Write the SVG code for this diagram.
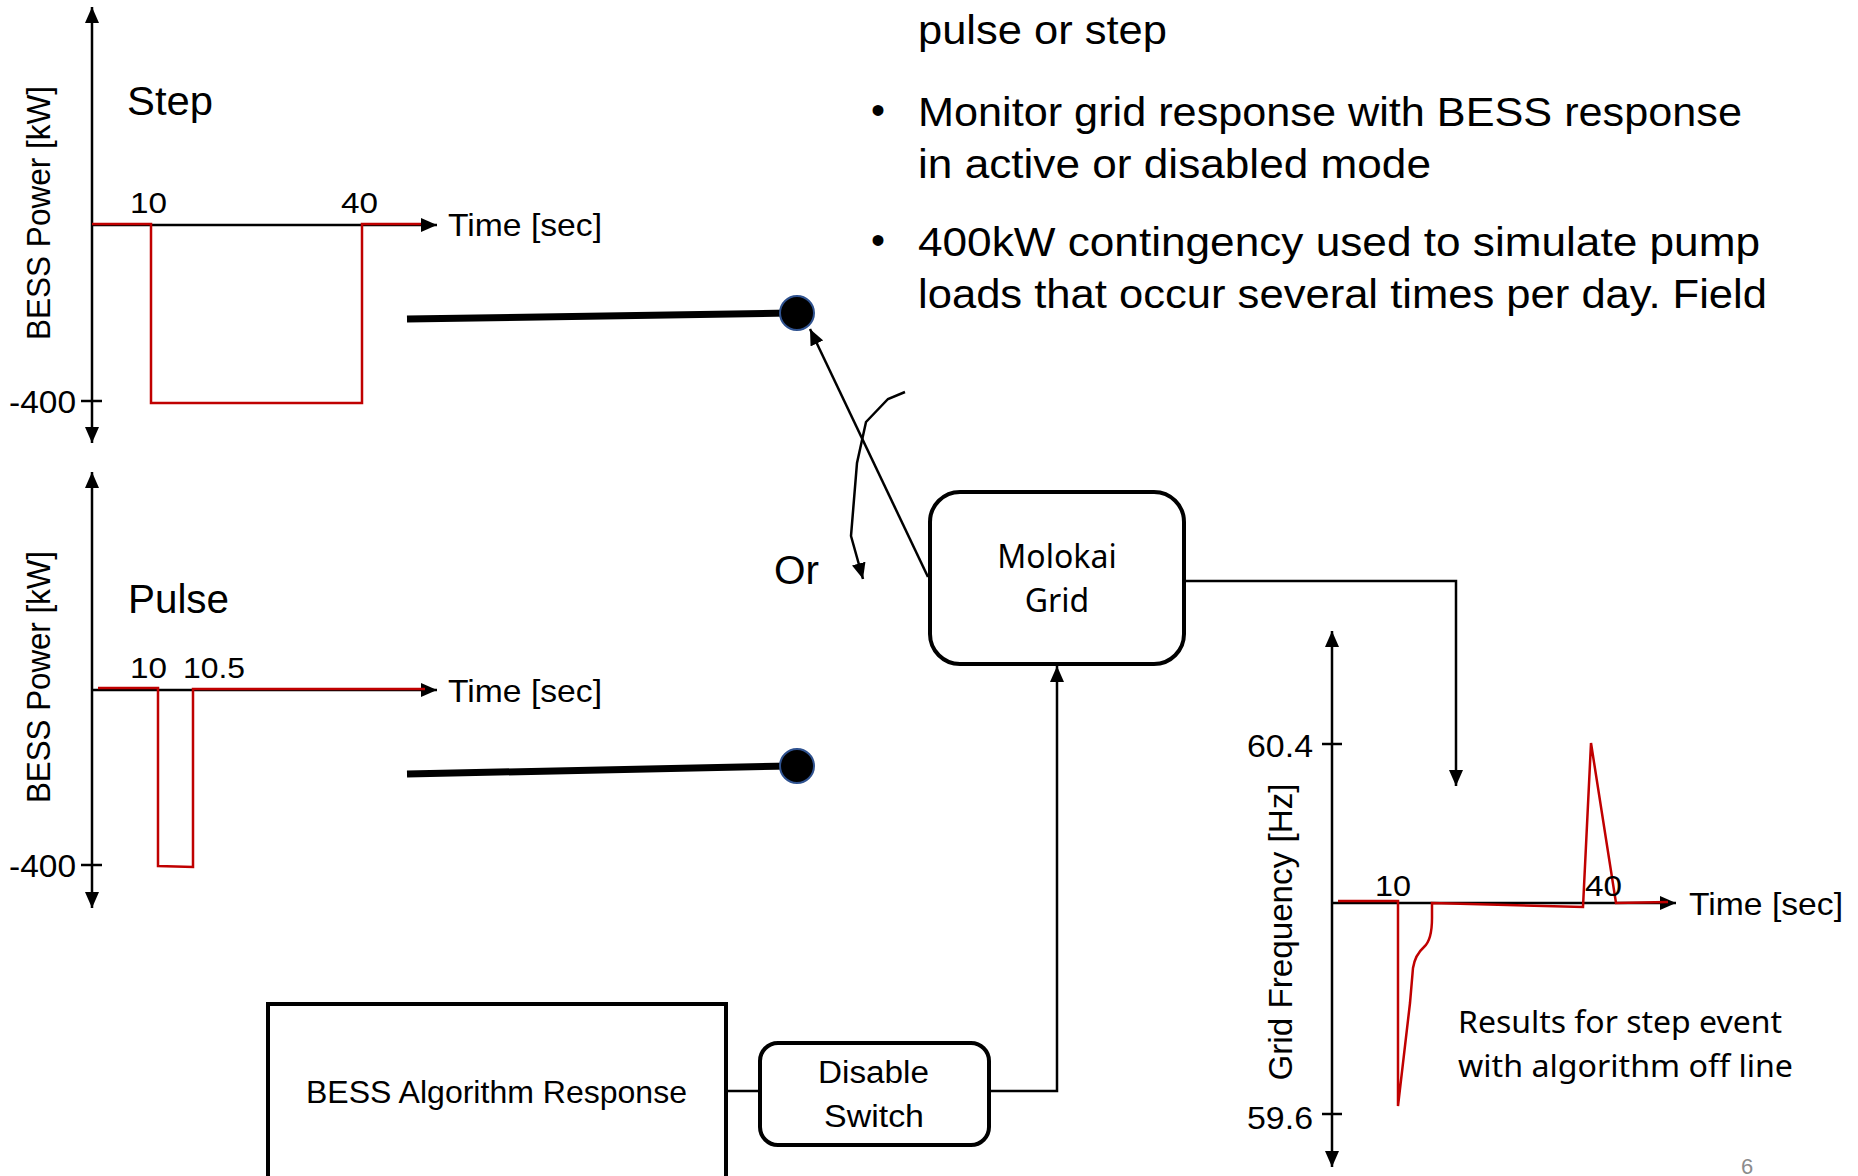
<svg xmlns="http://www.w3.org/2000/svg" width="1858" height="1176" viewBox="0 0 1858 1176">
  <defs>
    <style>
      .t { font-family: "Liberation Sans", Arial, sans-serif; fill: #000; }
      .n { font-family: "Noto Sans", "Open Sans", sans-serif; fill: #000; }
      .ax { stroke: #000; stroke-width: 2.5; fill: none; }
      .red { stroke: #C00000; stroke-width: 2.5; fill: none; stroke-linejoin: miter; }
      .con { stroke: #000; stroke-width: 2.5; fill: none; }
      .box { stroke: #000; stroke-width: 4; fill: #fff; }
      .bar { stroke: #000; stroke-width: 7; fill: none; }
      .pin { fill: #000; stroke: #2F528F; stroke-width: 2; }
    </style>
    <marker id="ah" viewBox="0 0 16 14" refX="16" refY="7" markerWidth="16" markerHeight="14" markerUnits="userSpaceOnUse" orient="auto-start-reverse">
      <path d="M0,0 L16,7 L0,14 z" fill="#000"/>
    </marker>
  </defs>

  <!-- bullet text -->
  <g id="notes" class="t" font-size="40">
    <text x="918" y="44" textLength="249" lengthAdjust="spacingAndGlyphs">pulse or step</text>
    <text x="878" y="124" text-anchor="middle">•</text>
    <text x="918" y="126" textLength="824" lengthAdjust="spacingAndGlyphs">Monitor grid response with BESS response</text>
    <text x="918" y="178" textLength="513" lengthAdjust="spacingAndGlyphs">in active or disabled mode</text>
    <text x="878" y="254" text-anchor="middle">•</text>
    <text x="918" y="256" textLength="842" lengthAdjust="spacingAndGlyphs">400kW contingency used to simulate pump</text>
    <text x="918" y="308" textLength="849" lengthAdjust="spacingAndGlyphs">loads that occur several times per day. Field</text>
  </g>

  <!-- step input chart -->
  <g id="step-chart">
    <line class="ax" x1="92" y1="7" x2="92" y2="443" marker-start="url(#ah)" marker-end="url(#ah)"/>
    <line class="ax" x1="92" y1="225" x2="437" y2="225" marker-end="url(#ah)"/>
    <line class="ax" x1="81" y1="401" x2="102" y2="401"/>
    <polyline class="red" points="92,224 151,224 151,403 362,403 362,224 421,224"/>
    <text class="t" x="127" y="115" font-size="40" textLength="86" lengthAdjust="spacingAndGlyphs">Step</text>
    <text class="t" x="130" y="213" font-size="30" textLength="37" lengthAdjust="spacingAndGlyphs">10</text>
    <text class="t" x="341" y="213" font-size="30" textLength="37" lengthAdjust="spacingAndGlyphs">40</text>
    <text class="t" x="448" y="236" font-size="32" textLength="154" lengthAdjust="spacingAndGlyphs">Time [sec]</text>
    <text class="t" x="9" y="413" font-size="32" textLength="67" lengthAdjust="spacingAndGlyphs">-400</text>
    <text class="t" font-size="33" text-anchor="middle" transform="translate(50,213) rotate(-90)" textLength="254" lengthAdjust="spacingAndGlyphs">BESS Power [kW]</text>
  </g>

  <!-- pulse input chart -->
  <g id="pulse-chart">
    <line class="ax" x1="92" y1="472" x2="92" y2="908" marker-start="url(#ah)" marker-end="url(#ah)"/>
    <line class="ax" x1="92" y1="690" x2="437" y2="690" marker-end="url(#ah)"/>
    <line class="ax" x1="81" y1="865" x2="102" y2="865"/>
    <polyline class="red" points="98,688 158,688 158,866 193,867 193,689 425,689"/>
    <text class="t" x="128" y="613" font-size="40" textLength="101" lengthAdjust="spacingAndGlyphs">Pulse</text>
    <text class="t" x="130" y="678" font-size="30" textLength="37" lengthAdjust="spacingAndGlyphs">10</text>
    <text class="t" x="183" y="678" font-size="30" textLength="62" lengthAdjust="spacingAndGlyphs">10.5</text>
    <text class="t" x="448" y="702" font-size="32" textLength="154" lengthAdjust="spacingAndGlyphs">Time [sec]</text>
    <text class="t" x="9" y="877" font-size="32" textLength="67" lengthAdjust="spacingAndGlyphs">-400</text>
    <text class="t" font-size="33" text-anchor="middle" transform="translate(50,677) rotate(-90)" textLength="252" lengthAdjust="spacingAndGlyphs">BESS Power [kW]</text>
  </g>

  <!-- switch contacts -->
  <g id="contact-step">
    <line class="bar" x1="407" y1="319" x2="790" y2="313"/>
    <circle class="pin" cx="797" cy="313" r="17"/>
  </g>
  <g id="contact-pulse">
    <line class="bar" x1="407" y1="774" x2="790" y2="766"/>
    <circle class="pin" cx="797" cy="766" r="17"/>
  </g>
  <text id="or-label" class="t" x="774" y="584" font-size="41" textLength="45" lengthAdjust="spacingAndGlyphs">Or</text>

  <!-- blocks -->
  <g id="molokai-grid">
    <rect class="box" x="930" y="492" width="254" height="172" rx="30" ry="30"/>
    <text class="n" x="1057" y="568" font-size="32" text-anchor="middle">Molokai</text>
    <text class="n" x="1057" y="612" font-size="32" text-anchor="middle">Grid</text>
  </g>
  <g id="bess-algorithm">
    <rect class="box" x="268" y="1004" width="458" height="200"/>
    <text class="t" x="306" y="1103" font-size="32" textLength="381" lengthAdjust="spacingAndGlyphs">BESS Algorithm Response</text>
  </g>
  <g id="disable-switch">
    <rect class="box" x="760" y="1043" width="229" height="102" rx="18" ry="18"/>
    <text class="t" x="818" y="1083" font-size="31" textLength="111" lengthAdjust="spacingAndGlyphs">Disable</text>
    <text class="t" x="824" y="1127" font-size="31" textLength="100" lengthAdjust="spacingAndGlyphs">Switch</text>
  </g>

  <!-- connectors -->
  <g id="connectors">
    <line class="con" x1="928" y1="577" x2="810" y2="329" marker-end="url(#ah)"/>
    <polyline class="con" points="905,392 888,399 866,422 857,463 851,536 863,579" marker-end="url(#ah)"/>
    <line class="con" x1="726" y1="1091" x2="760" y2="1091"/>
    <polyline class="con" points="989,1091 1057,1091 1057,666" marker-end="url(#ah)"/>
    <polyline class="con" points="1184,581 1456,581 1456,786" marker-end="url(#ah)"/>
  </g>

  <!-- grid frequency result chart -->
  <g id="frequency-chart">
    <line class="ax" x1="1332" y1="631" x2="1332" y2="1167" marker-start="url(#ah)" marker-end="url(#ah)"/>
    <line class="ax" x1="1332" y1="903" x2="1676" y2="903" marker-end="url(#ah)"/>
    <line class="ax" x1="1322" y1="744" x2="1342" y2="744"/>
    <line class="ax" x1="1322" y1="1114" x2="1342" y2="1114"/>
    <path class="red" d="M1338,901 L1398,901 L1398,1106 L1410,1003 L1413,968 Q1415,955 1424,947 Q1432,940 1432,918 L1432,903 L1583,907 L1591,743 L1616,903 L1668,902"/>
    <text class="t" x="1375" y="896" font-size="30" textLength="36" lengthAdjust="spacingAndGlyphs">10</text>
    <text class="t" x="1585" y="896" font-size="30" textLength="37" lengthAdjust="spacingAndGlyphs">40</text>
    <text class="t" x="1689" y="915" font-size="32" textLength="154" lengthAdjust="spacingAndGlyphs">Time [sec]</text>
    <text class="t" x="1247" y="757" font-size="32" textLength="66" lengthAdjust="spacingAndGlyphs">60.4</text>
    <text class="t" x="1247" y="1129" font-size="32" textLength="66" lengthAdjust="spacingAndGlyphs">59.6</text>
    <text class="t" font-size="33" text-anchor="middle" transform="translate(1292,932) rotate(-90)" textLength="297" lengthAdjust="spacingAndGlyphs">Grid Frequency [Hz]</text>
    <text class="n" x="1458" y="1033" font-size="30" textLength="324" lengthAdjust="spacingAndGlyphs">Results for step event</text>
    <text class="n" x="1458" y="1077" font-size="30" textLength="335" lengthAdjust="spacingAndGlyphs">with algorithm off line</text>
  </g>

  <text id="page-number" x="1741" y="1174" font-family="Liberation Sans, Arial, sans-serif" font-size="22" fill="#8c8c8c">6</text>
</svg>
